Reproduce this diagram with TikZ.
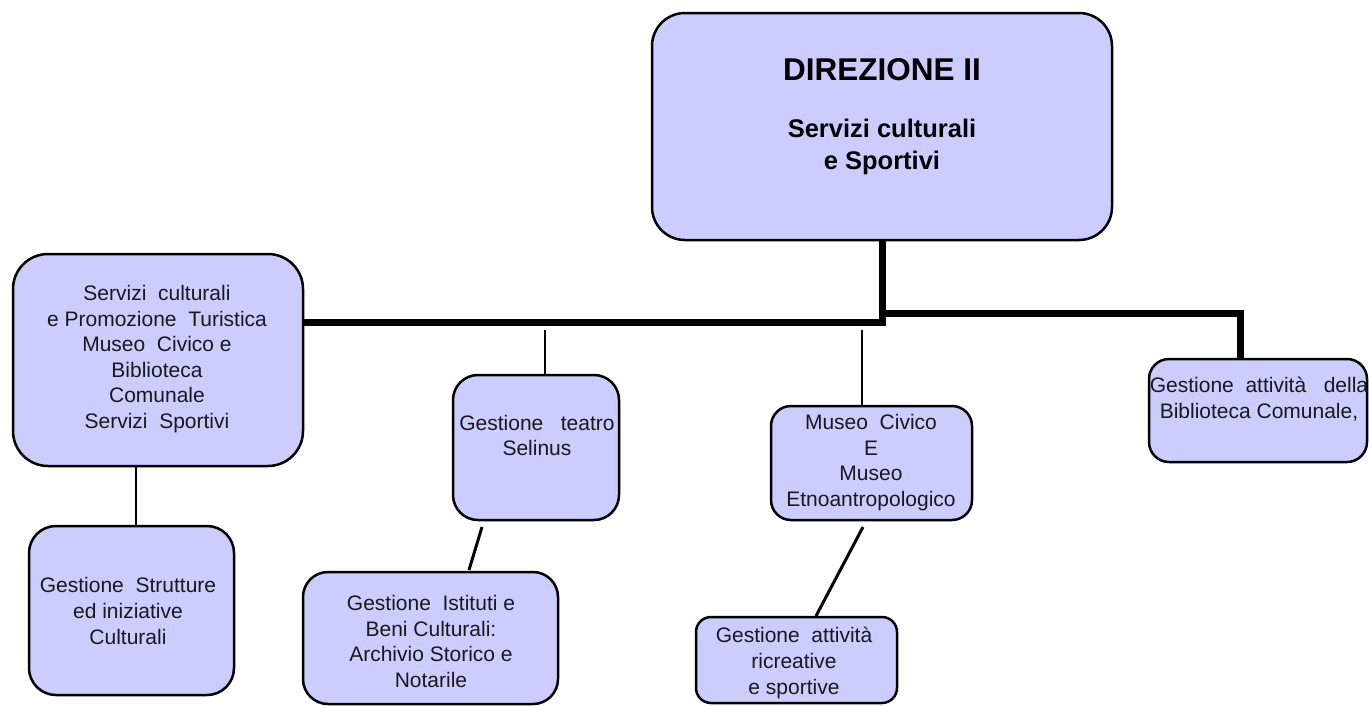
\documentclass[tikz,border=0pt]{standalone}
\usepackage{fontspec}
\setmainfont{Liberation Sans}
\definecolor{boxfill}{HTML}{CCCCFF}
\tikzset{
  box/.style={draw=black, line width=2.5pt, fill=boxfill, rounded corners=#1, inner sep=0pt, outer sep=0pt},
  box/.default=25pt,
  txt/.style={align=center, font=\fontsize{21}{25.6}\selectfont, inner sep=0pt, text=black!90},
  thickline/.style={line width=7pt, line join=miter},
  thinline/.style={line width=2pt},
  diagline/.style={line width=3pt}
}
\begin{document}
\begin{tikzpicture}[x=1pt,y=-1pt]
\useasboundingbox (0,0) rectangle (1369,705);
% boxes
\node[box=33pt, minimum width=460pt, minimum height=227pt] (top) at (882,126.5) {};
\node[box=35pt, minimum width=290pt, minimum height=212pt] (left) at (158,360) {};
\node[box=27pt, minimum width=205pt, minimum height=169pt] (strut) at (131.5,610.5) {};
\node[box=25pt, minimum width=166pt, minimum height=145pt] (teatro) at (536,447.5) {};
\node[box=25pt, minimum width=255pt, minimum height=132pt] (istituti) at (430.5,638) {};
\node[box=20pt, minimum width=201pt, minimum height=114pt] (museo) at (871.5,463) {};
\node[box=15pt, minimum width=201pt, minimum height=86pt] (ricre) at (796.5,660) {};
\node[box=20pt, minimum width=218pt, minimum height=103pt] (bib) at (1258,410.5) {};
% texts
\node[inner sep=0pt, font=\fontsize{31.5}{36}\selectfont\bfseries] (t1) at (882,70) {DIREZIONE II};
\node[inner sep=0pt, align=center, font=\fontsize{25.5}{32}\selectfont\bfseries] (t2) at (882,147) {Servizi culturali\\ e Sportivi};
\node[txt] (tl) at (157,359) {Servizi\ \ culturali\\e Promozione\ \ Turistica\\Museo\ \ Civico e\\Biblioteca\\Comunale\\Servizi\ \ Sportivi};
\node[txt] (ts) at (128,611) {Gestione\ \ Strutture\\ed iniziative\\Culturali};
\node[txt] (tt) at (537,435.5) {Gestione\ \ \ teatro\\Selinus};
\node[txt] (ti) at (431,641.5) {Gestione\ \ Istituti e\\Beni Culturali:\\Archivio Storico e\\Notarile};
\node[txt] (tm) at (871,462.5) {Museo\ \ Civico\\E\\Museo\\Etnoantropologico};
\node[txt] (tr) at (794,663) {Gestione\ \ attività\\ricreative\\e sportive};
\node[txt] (tb) at (1259,399) {Gestione\ \ attività\ \ \ della\\Biblioteca Comunale,};
% connectors
\coordinate (j1) at (882,322);
\coordinate (j2) at (882,313);
\coordinate (j3) at (1240,313);
\draw[thickline] (top.south) -- (j1) -- (left.east |- j1);
\draw[thickline] (j2) -- (j3) -- (j3 |- bib.north);
\coordinate (c1) at (545,330);
\coordinate (c2) at (862,330);
\draw[thinline] (c1) -- (c1 |- teatro.north);
\draw[thinline] (c2) -- (c2 |- museo.north);
\draw[thinline] ([xshift=-22pt]left.south) -- ([xshift=4.5pt]strut.north);
\draw[diagline] ([xshift=-54pt,yshift=-7pt]teatro.south) -- ([xshift=38.5pt,yshift=2pt]istituti.north);
\draw[diagline] ([xshift=-8.5pt,yshift=-7pt]museo.south) -- ([xshift=19.5pt,yshift=1pt]ricre.north);
\end{tikzpicture}
\end{document}
